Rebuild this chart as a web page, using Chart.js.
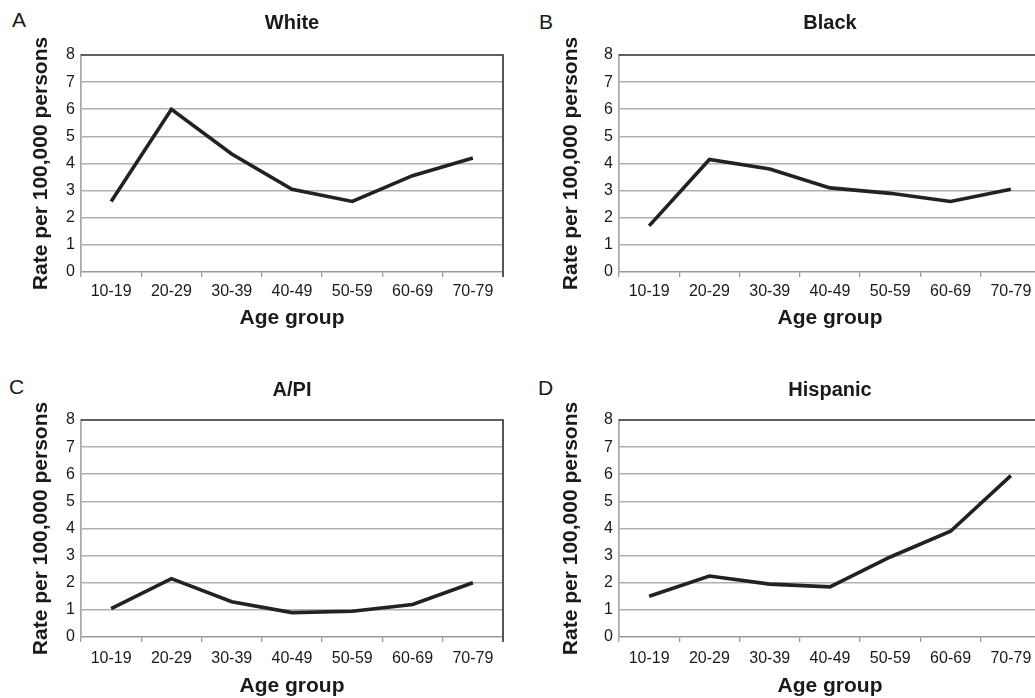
<!DOCTYPE html>
<html>
<head>
<meta charset="utf-8">
<script src="https://cdn.jsdelivr.net/npm/chart.js@4/dist/chart.umd.min.js"></script>
<style>
  html, body { margin: 0; padding: 0; background: #fff; width: 1035px; height: 698px; overflow: hidden; }
  .panel { position: absolute; width: 520px; height: 340px; }
  .letter { position: absolute; font-family: "Liberation Sans", Arial, sans-serif; font-size: 21px; line-height: 21px; color: #1a1a1a; }
</style>
</head>
<body>
<div class="letter" style="left:12px; top:9px;">A</div>
<div class="letter" style="left:539px; top:11px;">B</div>
<div class="letter" style="left:9px; top:376px;">C</div>
<div class="letter" style="left:538px; top:377px;">D</div>

<div class="panel" style="left:0px; top:0px;"><canvas id="cA"></canvas></div>
<div class="panel" style="left:538px; top:0px;"><canvas id="cB"></canvas></div>
<div class="panel" style="left:0px; top:365px;"><canvas id="cC"></canvas></div>
<div class="panel" style="left:538px; top:365px;"><canvas id="cD"></canvas></div>

<script>
const categories = ['10-19', '20-29', '30-39', '40-49', '50-59', '60-69', '70-79'];
const yTicks = [0, 1, 2, 3, 4, 5, 6, 7, 8];
const white = [2.6, 6.0, 4.35, 3.05, 2.6, 3.55, 4.2];
const black = [1.7, 4.15, 3.8, 3.1, 2.9, 2.6, 3.05];
const api = [1.05, 2.15, 1.3, 0.9, 0.95, 1.2, 2.0];
const hispanic = [1.5, 2.25, 1.95, 1.85, 2.95, 3.9, 5.95];

const FONT = '"Liberation Sans", Arial, sans-serif';

const borderPlugin = {
  id: 'frameBorders',
  beforeDatasetsDraw(chart) {
    const { ctx, chartArea: a } = chart;
    ctx.save();
    ctx.lineCap = 'butt';
    ctx.strokeStyle = '#2a2a2a';
    ctx.lineWidth = 1.5;
    ctx.beginPath();
    ctx.moveTo(a.left, a.top);
    ctx.lineTo(a.right + 1, a.top);
    ctx.stroke();
    ctx.strokeStyle = '#555';
    ctx.lineWidth = 2;
    ctx.beginPath();
    ctx.moveTo(a.right, a.top);
    ctx.lineTo(a.right, a.bottom + 5);
    ctx.stroke();
    ctx.restore();
  }
};

function makeChart(id, title, values, opts) {
  const ctx = document.getElementById(id);
  return new Chart(ctx, {
    type: 'line',
    data: {
      labels: categories,
      datasets: [{
        data: values,
        borderColor: '#222',
        borderWidth: 3.6,
        pointRadius: 0,
        tension: 0,
        fill: false,
        borderCapStyle: 'butt',
        borderJoinStyle: 'miter'
      }]
    },
    options: {
      responsive: true,
      maintainAspectRatio: false,
      animation: false,
      events: [],
      layout: { padding: { left: 0, right: 17, top: 0, bottom: 0 } },
      plugins: {
        legend: { display: false },
        tooltip: { enabled: false },
        title: {
          display: true,
          text: title,
          fullSize: false,
          color: '#1a1a1a',
          font: { family: FONT, size: 20, weight: 'bold', lineHeight: 1.2 },
          padding: { top: opts.titleTop, bottom: 31 - opts.titleTop }
        }
      },
      scales: {
        x: {
          type: 'category',
          offset: true,
          afterFit(scale) { scale.height = 68; },
          grid: {
            display: true,
            offset: true,
            drawOnChartArea: false,
            drawTicks: true,
            tickLength: 5,
            color: '#999',
            lineWidth: 1.3
          },
          border: { display: true, color: '#999', width: 1.5 },
          ticks: {
            color: '#1a1a1a',
            font: { family: FONT, size: 16 },
            padding: opts.xTickPad,
            maxRotation: 0,
            autoSkip: false
          },
          title: {
            display: true,
            text: 'Age group',
            color: '#1a1a1a',
            font: { family: FONT, size: 21, weight: 'bold', lineHeight: 1.2 },
            padding: { top: 0, bottom: opts.xTitleBottom }
          }
        },
        y: {
          min: 0,
          max: 8,
          afterFit(scale) { scale.width = 81; },
          afterBuildTicks(scale) { scale.ticks = yTicks.map(v => ({ value: v })); },
          grid: {
            display: true,
            drawTicks: false,
            color: (c) => (c.tick && (c.tick.value === 0 || c.tick.value === 8)) ? 'rgba(0,0,0,0)' : '#b0b0b0',
            lineWidth: 1.6
          },
          border: { display: true, color: '#aaa', width: 1.8 },
          ticks: {
            color: '#1a1a1a',
            font: { family: FONT, size: 16 },
            padding: 6,
            stepSize: 1
          },
          title: {
            display: true,
            text: 'Rate per 100,000 persons',
            color: '#1a1a1a',
            font: { family: FONT, size: 21, weight: 'bold', lineHeight: 1.2 },
            padding: { top: opts.yTitleTop, bottom: 0 }
          }
        }
      }
    },
    plugins: [borderPlugin]
  });
}

makeChart('cA', 'White', white, { titleTop: 11, xTickPad: 5, xTitleBottom: 9.5, yTitleTop: 28.4 });
makeChart('cB', 'Black', black, { titleTop: 11, xTickPad: 5, xTitleBottom: 9.5, yTitleTop: 20.4 });
makeChart('cC', 'A/PI', api, { titleTop: 13, xTickPad: 7, xTitleBottom: 6.5, yTitleTop: 28.4 });
makeChart('cD', 'Hispanic', hispanic, { titleTop: 13, xTickPad: 7, xTitleBottom: 6.5, yTitleTop: 20.4 });
</script>
</body>
</html>
